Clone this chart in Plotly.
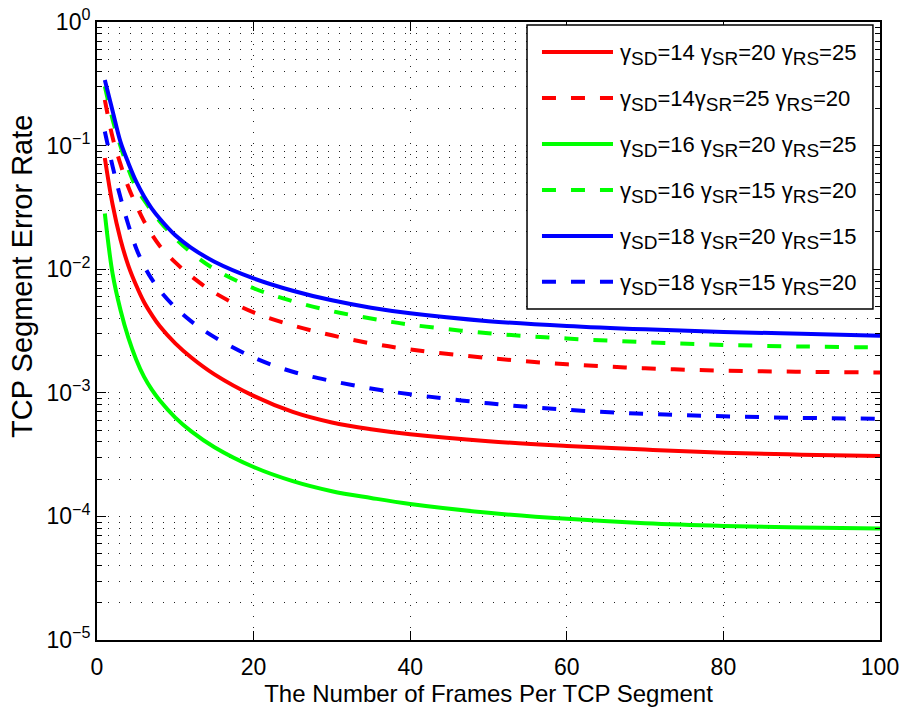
import plotly.graph_objects as go

# ---- data ----
frames = [1, 2, 3, 4, 5, 6, 7, 8, 10, 12, 15, 20, 25, 30, 35, 40, 50, 60, 70, 80, 90, 100]

sd14_sr20_rs25 = [0.0794, 0.0331, 0.0174, 0.0107, 0.00741, 0.00543, 0.00427, 0.00347, 0.00251,
                  0.00194, 0.00141, 0.000944, 0.0007, 0.000575, 0.000507, 0.000462, 0.000406,
                  0.000372, 0.000347, 0.000327, 0.000316, 0.000308]
sd14_sr25_rs20 = [0.234, 0.116, 0.0708, 0.0462, 0.0331, 0.0245, 0.0191, 0.0155, 0.01135, 0.00881,
                  0.00646, 0.00447, 0.00351, 0.00292, 0.00251, 0.00224, 0.00191, 0.0017,
                  0.00158, 0.00151, 0.00148, 0.00146]
sd16_sr20_rs25 = [0.0282, 0.00912, 0.00468, 0.00279, 0.00186, 0.00135, 0.00106, 0.00087, 0.00063,
                  0.00049, 0.000363, 0.000251, 0.000193, 0.00016, 0.000141, 0.000126, 0.000107,
                  0.0000955, 0.0000881, 0.0000838, 0.0000813, 0.0000798]
sd16_sr15_rs20 = [0.302, 0.162, 0.0989, 0.0646, 0.0457, 0.0363, 0.0295, 0.0245, 0.0178, 0.01368,
                  0.01002, 0.00701, 0.00551, 0.00458, 0.00399, 0.00356, 0.00303, 0.00275,
                  0.00257, 0.00244, 0.00237, 0.00233]
sd18_sr20_rs15 = [0.34, 0.19, 0.107, 0.0724, 0.0513, 0.0389, 0.0309, 0.0257, 0.0188, 0.01496,
                  0.0115, 0.00843, 0.0067, 0.0056, 0.00488, 0.0044, 0.0038, 0.00347,
                  0.00326, 0.00311, 0.0030, 0.0029]
sd18_sr15_rs20 = [0.13, 0.0676, 0.038, 0.0229, 0.0148, 0.0107, 0.0083, 0.00676, 0.0049, 0.0038,
                  0.00282, 0.00193, 0.00148, 0.001245, 0.001084, 0.000973, 0.000822, 0.000729,
                  0.000676, 0.000646, 0.000627, 0.000617]

series_values = [sd14_sr20_rs25, sd14_sr25_rs20, sd16_sr20_rs25,
                 sd16_sr15_rs20, sd18_sr20_rs15, sd18_sr15_rs20]
series_names = [
    "γ<sub>SD</sub>=14 γ<sub>SR</sub>=20 γ<sub>RS</sub>=25",
    "γ<sub>SD</sub>=14γ<sub>SR</sub>=25 γ<sub>RS</sub>=20",
    "γ<sub>SD</sub>=16 γ<sub>SR</sub>=20 γ<sub>RS</sub>=25",
    "γ<sub>SD</sub>=16 γ<sub>SR</sub>=15 γ<sub>RS</sub>=20",
    "γ<sub>SD</sub>=18 γ<sub>SR</sub>=20 γ<sub>RS</sub>=15",
    "γ<sub>SD</sub>=18 γ<sub>SR</sub>=15 γ<sub>RS</sub>=20",
]
series_colors = ["#FF0000", "#FF0000", "#00FF00", "#00FF00", "#0000FF", "#0000FF"]
series_dashes = ["solid", "14px,15px", "solid", "14px,15px", "solid", "14px,15px"]

x_ticks = [0, 20, 40, 60, 80, 100]
y_tick_vals = [1, 1e-1, 1e-2, 1e-3, 1e-4, 1e-5]
y_tick_text = ["10<sup>0</sup>", "10<sup>−1</sup>", "10<sup>−2</sup>",
               "10<sup>−3</sup>", "10<sup>−4</sup>", "10<sup>−5</sup>"]
y_minor_vals = [m * 10.0 ** e for e in range(-5, 0) for m in range(2, 10)]

FONT = "Liberation Sans, Arial, Helvetica, sans-serif"
DOT = "1px,10px"

fig = go.Figure()
for vals, name, col, dash in zip(series_values, series_names, series_colors, series_dashes):
    fig.add_trace(go.Scatter(
        x=frames, y=vals, name=name, mode="lines",
        line=dict(color=col, width=4, dash=dash, shape="spline", smoothing=1.0),
        showlegend=False,
    ))

# ---- legend box drawn in paper coordinates ----
L_X0, L_X1, L_Y0, L_Y1 = 0.5492, 0.991, 0.5356, 0.995
row_y = [0.9515 - i * 0.0744 for i in range(6)]
shapes = [dict(type="rect", xref="paper", yref="paper", x0=L_X0, x1=L_X1, y0=L_Y0, y1=L_Y1,
               line=dict(color="black", width=1.5), fillcolor="white", layer="above")]
annotations = []
for ry, name, col, dash in zip(row_y, series_names, series_colors, series_dashes):
    shapes.append(dict(type="line", xref="paper", yref="paper", x0=0.5683, x1=0.659,
                       y0=ry, y1=ry, line=dict(color=col, width=4, dash=dash), layer="above"))
    txt = name.replace("<sub>", "<sub><span style=\"font-size:19px\">").replace("</sub>", "</span></sub>")
    annotations.append(dict(xref="paper", yref="paper", x=0.666, y=ry, xanchor="left",
                            yanchor="middle", text=txt, showarrow=False, yshift=-3,
                            font=dict(family=FONT, size=22, color="black")))

# y-axis label, placed where the reference shows it
annotations.append(dict(xref="paper", yref="paper", x=-0.0958, y=0.589, xanchor="center",
                        yanchor="middle", textangle=-90, showarrow=False,
                        text="TCP Segment Error Rate",
                        font=dict(family=FONT, size=29, color="black")))

fig.update_layout(
    width=904, height=708,
    margin=dict(l=97, r=24, t=22, b=68),
    paper_bgcolor="white", plot_bgcolor="white",
    font=dict(family=FONT, size=22, color="black"),
    shapes=shapes, annotations=annotations,
    showlegend=False,
)
fig.update_xaxes(
    range=[0, 100], tickvals=x_ticks, ticks="inside", ticklen=9, tickwidth=1,
    tickcolor="black", showline=True, linecolor="black", linewidth=2, mirror="ticks",
    showgrid=True, gridcolor="#222", gridwidth=1, griddash=DOT, zeroline=False,
    tickfont=dict(size=23), ticklabelstandoff=5, automargin=False, ticklabeloverflow="allow",
    title=dict(text="The Number of Frames Per TCP Segment", font=dict(size=24), standoff=4),
)
fig.update_yaxes(
    type="log", range=[-5, 0], tickmode="array", tickvals=y_tick_vals, ticktext=y_tick_text,
    ticks="inside", ticklen=9, tickwidth=1, tickcolor="black",
    showline=True, linecolor="black", linewidth=2, mirror="ticks",
    showgrid=True, gridcolor="#222", gridwidth=1, griddash=DOT, zeroline=False,
    tickfont=dict(size=23), ticklabelstandoff=0, automargin=False, ticklabeloverflow="allow",
    minor=dict(tickmode="array", tickvals=y_minor_vals, ticks="inside", ticklen=5,
               tickcolor="black", showgrid=True, gridcolor="#222", gridwidth=1, griddash=DOT),
)

# remove the browser's default 8px body margin so the 904x708 figure fills the window
fig.write_html("out.html", config={"displayModeBar": False},
               post_script="document.body.style.margin='0';")
